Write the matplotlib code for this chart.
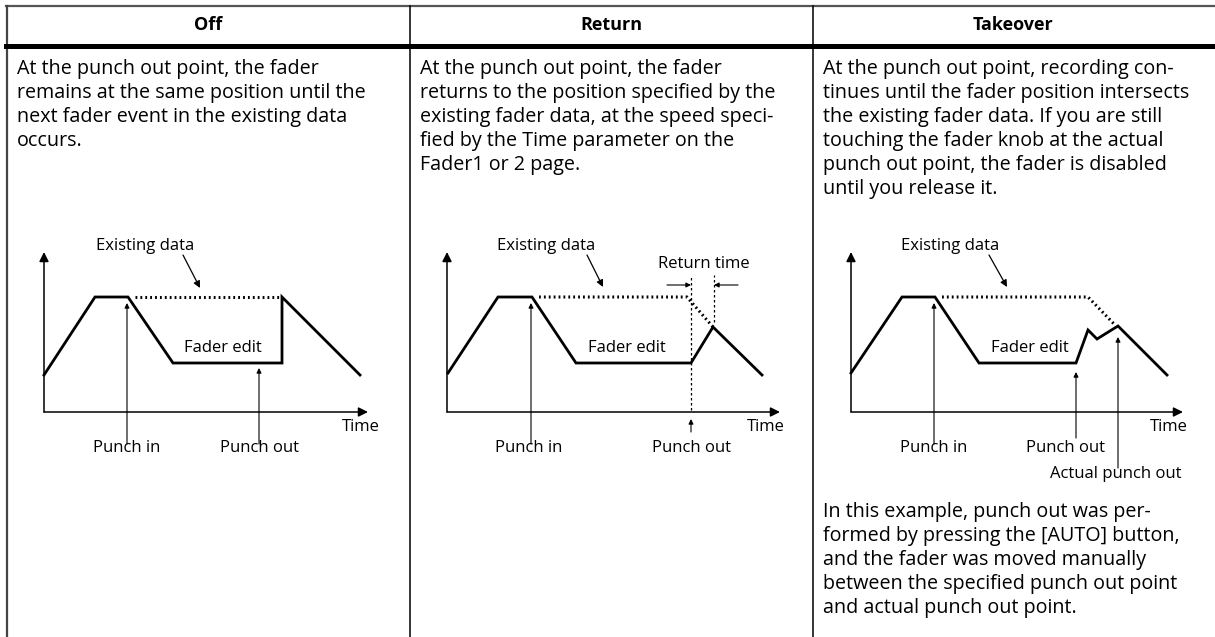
import matplotlib
matplotlib.use("Agg")
import matplotlib.pyplot as plt

plt.rcParams['font.family'] = ['Open Sans', 'DejaVu Sans']

W, H = 1215, 637

headers = ["Off", "Return", "Takeover"]
col_left = [7, 410, 813]
col_center = [208, 611, 1013]

desc = [
    ["At the punch out point, the fader",
     "remains at the same position until the",
     "next fader event in the existing data",
     "occurs."],
    ["At the punch out point, the fader",
     "returns to the position specified by the",
     "existing fader data, at the speed speci-",
     "fied by the Time parameter on the",
     "Fader1 or 2 page."],
    ["At the punch out point, recording con-",
     "tinues until the fader position intersects",
     "the existing fader data. If you are still",
     "touching the fader knob at the actual",
     "punch out point, the fader is disabled",
     "until you release it."],
]
note = ["In this example, punch out was per-",
        "formed by pressing the [AUTO] button,",
        "and the fader was moved manually",
        "between the specified punch out point",
        "and actual punch out point."]

# diagram data (time, level) in diagram units
off_t = [0, 51, 84, 129, 238, 238, 316]
off_lv = [37, 115, 115, 49, 49, 115, 37]
off_exist_t = [91, 238]
off_exist_lv = [115, 115]

ret_t = [1, 51, 85, 129, 244, 266, 315]
ret_lv = [39, 115, 115, 49, 49, 85, 37]
ret_exist_t = [92, 240, 266]
ret_exist_lv = [115, 115, 85]

tk_t = [0, 51, 84, 128, 225, 237, 246, 267, 316]
tk_lv = [39, 115, 115, 49, 49, 82, 73, 86, 37]
tk_exist_t = [91, 237, 264]
tk_exist_lv = [115, 115, 87]

origins = [(44, 412), (447, 412), (851, 412)]

fig = plt.figure(figsize=(W / 100, H / 100), dpi=100)
base = fig.add_axes([0, 0, 1, 1])
base.set_xlim(0, W)
base.set_ylim(H, 0)
base.axis('off')

# table rules
base.plot([6, W], [6, 6], color='#555555', lw=1.6)
base.plot([6.5, 6.5], [6, H], color='#444444', lw=1.6)
base.plot([6, W], [45.5, 45.5], color='black', lw=3.6)
for x in col_left[1:]:
    base.plot([x, x], [6, H], color='black', lw=1.1)

for h, cx in zip(headers, col_center):
    base.text(cx, 24.5, h, ha='center', va='center', fontsize=13, fontweight='bold')

for lines, x0 in zip(desc, col_left):
    for i, s in enumerate(lines):
        base.text(x0 + 10, 74 + i * 24, s, ha='left', va='baseline', fontsize=14.2)
for i, s in enumerate(note):
    base.text(col_left[2] + 10, 517 + i * 24, s, ha='left', va='baseline', fontsize=14.2)


def diagram(origin):
    ox, oy = origin
    ax = fig.add_axes([(ox - 40) / W, (H - (oy + 75)) / H, 400 / W, 255 / H])
    ax.set_xlim(-40, 360)
    ax.set_ylim(-75, 180)
    ax.axis('off')
    ax.annotate('', xy=(0, 160), xytext=(0, 0),
                arrowprops=dict(arrowstyle='-|>', lw=1.1, color='black', mutation_scale=14,
                                shrinkA=0, shrinkB=0))
    return ax


def up_arrow(ax, x, y0, y1):
    ax.annotate('', xy=(x, y1), xytext=(x, y0),
                arrowprops=dict(arrowstyle='-|>', lw=0.8, color='black',
                                mutation_scale=7, shrinkA=0, shrinkB=0))


def x_axis(ax, xend):
    ax.annotate('', xy=(xend, 0), xytext=(0, 0),
                arrowprops=dict(arrowstyle='-|>', lw=1.1, color='black',
                                mutation_scale=14, shrinkA=0, shrinkB=0))


lab = dict(ha='center', va='center', fontsize=12)


def existing(ax, x, arrow_from, arrow_to):
    ax.text(x, 166, "Existing data", **lab)
    ax.annotate('', xy=arrow_to, xytext=arrow_from,
                arrowprops=dict(arrowstyle='-|>', lw=0.9, color='black',
                                mutation_scale=10, shrinkA=0, shrinkB=0))


dot = dict(color='black', lw=2.2, linestyle=(0, (0.6, 1.0)), dash_capstyle='butt')
solid = dict(color='black', lw=2.0, solid_joinstyle='miter')

# Off
ax = diagram(origins[0])
x_axis(ax, 324)
ax.plot(off_exist_t, off_exist_lv, **dot)
ax.plot(off_t, off_lv, **solid)
up_arrow(ax, 83, -32, 109)
up_arrow(ax, 215, -32, 44)
ax.text(83, -36, "Punch in", **lab)
ax.text(215, -36, "Punch out", **lab)
ax.text(317, -15, "Time", **lab)
ax.text(179, 64, "Fader edit", **lab)
existing(ax, 101, (139, 157), (156, 124))

# Return
ax = diagram(origins[1])
x_axis(ax, 333)
ax.plot(ret_exist_t, ret_exist_lv, **dot)
ax.plot(ret_t, ret_lv, **solid)
ax.plot([244, 244], [2, 137], color='black', lw=0.9, linestyle=(0, (2, 2)))
ax.plot([267, 267], [90, 137], color='black', lw=0.9, linestyle=(0, (2, 2)))
ax.annotate('', xy=(244, 127), xytext=(220, 127),
            arrowprops=dict(arrowstyle='-|>', lw=0.8, color='black', mutation_scale=7,
                            shrinkA=0, shrinkB=0))
ax.annotate('', xy=(267, 127), xytext=(291, 127),
            arrowprops=dict(arrowstyle='-|>', lw=0.8, color='black', mutation_scale=7,
                            shrinkA=0, shrinkB=0))
ax.text(257, 148, "Return time", **lab)
up_arrow(ax, 84, -32, 109)
up_arrow(ax, 244, -20, -7)
ax.text(82, -36, "Punch in", **lab)
ax.text(245, -36, "Punch out", **lab)
ax.text(319, -15, "Time", **lab)
ax.text(180, 64, "Fader edit", **lab)
existing(ax, 99, (140, 157), (156, 125))

# Takeover
ax = diagram(origins[2])
x_axis(ax, 332)
ax.plot(tk_exist_t, tk_exist_lv, **dot)
ax.plot(tk_t, tk_lv, **solid)
up_arrow(ax, 83, -32, 109)
up_arrow(ax, 225, -26, 40)
up_arrow(ax, 267, -56, 75)
ax.text(83, -36, "Punch in", **lab)
ax.text(214, -36, "Punch out", **lab)
ax.text(265, -62, "Actual punch out", **lab)
ax.text(318, -15, "Time", **lab)
ax.text(179, 64, "Fader edit", **lab)
existing(ax, 99, (138, 157), (156, 125))

fig.savefig("out.png", dpi=100)
